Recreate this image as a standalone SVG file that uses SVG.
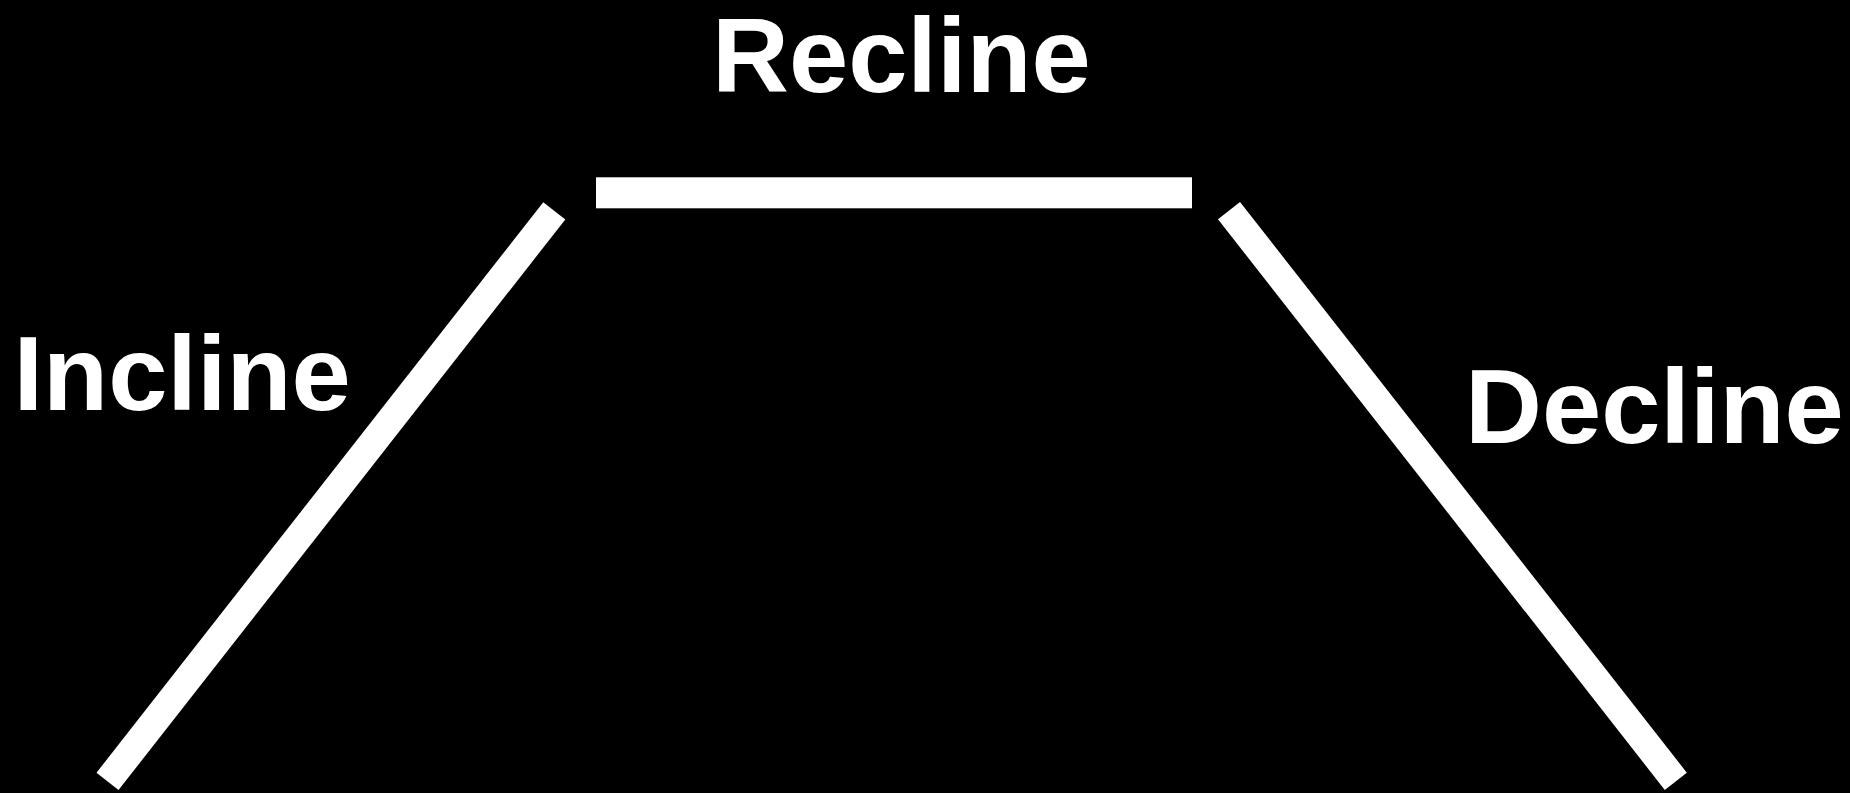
<svg xmlns="http://www.w3.org/2000/svg" width="1850" height="793" viewBox="0 0 1850 793">
<style>
.lbl{font-family:"Liberation Sans",Arial,sans-serif;font-weight:bold;font-size:106.5px;fill:#fff}
.bar{stroke:#fff;stroke-width:28;stroke-linecap:butt;fill:none}
</style>
<rect x="0" y="0" width="1850" height="793" fill="#000"/>
<g id="connectors">
<line class="bar" x1="554.3" y1="210.8" x2="107.5" y2="781.4"/>
<line class="bar" x1="1229" y1="210.6" x2="1675.8" y2="781.3"/>
<rect x="596" y="177.3" width="596" height="31" fill="#fff"/>
</g>
<g id="recline"><text class="lbl" x="712" y="92">Recline</text></g>
<g id="incline"><text class="lbl" x="13.5" y="410">Incline</text></g>
<g id="decline"><text class="lbl" x="1465" y="443">Decline</text></g>
</svg>
